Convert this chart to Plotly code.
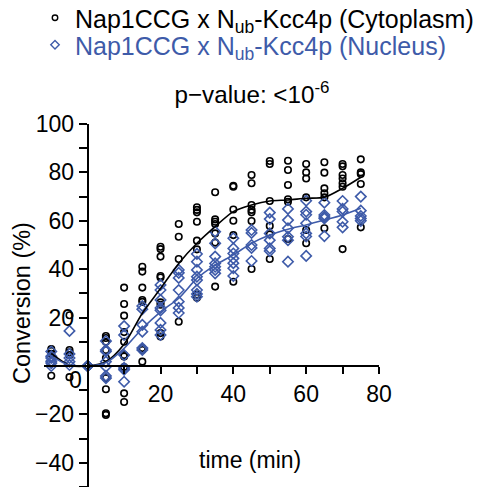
import plotly.graph_objects as go

# ---- data ----
times = [-10, -5, 0, 5, 10, 15, 20, 25, 30, 35, 40, 45, 50, 55, 60, 65, 70, 75]

cyto_vals = [
    [7, 6.2, 5, -4],
    [21, 6.6, 5.7, 4.5, -4.6],
    [0, 0, 0, 0, 0, 0],
    [12.4, 11.6, 10, 6.6, 3.3, -5, -9.6, -19.5, -20.2],
    [32.4, 25.6, 20.8, 14, 10, 4.5, 3.9, -0.4, -11.3, -14.9],
    [41, 39, 32.4, 27.3, 26.5, 7.4, 6.6, 1.8],
    [49.3, 48.3, 45.2, 37.2, 36.6, 26.3, 25.3, 13.6, 12.2],
    [58.7, 53.4, 44.2, 18.3],
    [65.6, 64.5, 63.5, 59.6, 51.8, 48.2, 29.5, 28.2],
    [71.8, 60.6, 59.6, 58.7, 54.8, 51, 32.8],
    [74.5, 74.1, 64.7, 60, 54.1, 34.8],
    [78.9, 75.5, 66.5, 64.5, 63.5, 59.9, 40.1],
    [84.7, 83.5, 68.2, 57.9, 54.4, 44.2],
    [84.8, 81, 74.8, 68.9, 67.9, 52.5],
    [83.5, 80, 77.5, 69.7, 56.2, 50.7],
    [84.2, 79.9, 73.4, 71.4, 69.7, 56.9],
    [83.5, 82.5, 78.9, 77.5, 75.5, 74.1, 48.3],
    [85.4, 80, 79.3, 75.2, 57.3],
]

nuc_vals = [
    [6, 4, 3.3, 2, 1.2, 0],
    [14.5, 5, 3.3, 1.8, 0.4],
    [0, 0, 0, 0, 0],
    [10.3, 6.6, 6, 1.8, -0.3, -4.1, -5],
    [16.5, 12.8, 4.5, -0.8, -1.5, -6.5],
    [24.8, 23.5, 17, 14.2, 7.4, 6.6],
    [33.5, 31.4, 27.3, 24, 23, 17.8, 14.9, 12.8],
    [39.7, 38.5, 36.4, 31.4, 26.6, 24, 21.9],
    [46.3, 43.1, 39.7, 36.9, 35.5, 31.4, 29.8, 28.6],
    [55.5, 50.7, 45.2, 42.4, 41, 39.7, 38.3],
    [52.8, 48.6, 46.5, 44.5, 42.5, 40.4, 37.2],
    [56.2, 55, 50, 48.8, 43.4],
    [63.4, 60.7, 54.8, 52, 48.6, 47.5],
    [64.9, 60.3, 56.9, 53.4, 52, 43.1],
    [68.3, 63.8, 62.5, 59, 54.8, 53.5, 45.5],
    [67.5, 62.4, 61.6, 61, 53.7],
    [68.2, 64.9, 63.8, 59.6, 57.3],
    [70, 64.2, 62, 61, 60],
]

cyto_fit = [5.2, 0.3, 0, 1.8, 9, 21.8, 32, 42.4, 50.7, 57.6, 63.8, 66.5, 68.2, 68.6, 69.3, 69.7, 73.4, 78]
nuc_fit = [4.1, 0.3, 0, 1.4, 7.3, 15.5, 22.4, 28, 36.2, 41.7, 45.9, 50.7, 54.1, 56.5, 58.3, 60.3, 62.4, 65.2]

x_ticks = [20, 40, 60, 80]
x_minor = [0, 10, 30, 50, 70]
y_ticks = [-40, -20, 20, 40, 60, 80, 100]
y_minor = [-50, -30, -10, 0, 10, 30, 50, 70, 90]

name_cyto = "Nap1CCG x N<sub>ub</sub>-Kcc4p (Cytoplasm)"
name_nuc = "Nap1CCG x N<sub>ub</sub>-Kcc4p (Nucleus)"

BLUE = "#3E5BA9"
FONT = "Liberation Sans, Arial, sans-serif"

W, H = 477, 487
ML, MR, MT, MB = 44, 98, 124, 0
PW, PH = W - ML - MR, H - MT - MB


def px2paper_x(px):
    return (px - ML) / PW


def px2paper_y(py):
    return (H - MB - py) / PH


def flatten(vals):
    xs, ys = [], []
    for t, vs in zip(times, vals):
        for v in vs:
            xs.append(t)
            ys.append(v)
    return xs, ys


cx, cy = flatten(cyto_vals)
nx, ny = flatten(nuc_vals)

fig = go.Figure()
fig.add_trace(go.Scatter(x=cx, y=cy, mode="markers", name=name_cyto, showlegend=False,
                         marker=dict(symbol="circle-open", size=6.5, color="black",
                                     line=dict(width=1.6, color="black"))))
fig.add_trace(go.Scatter(x=nx, y=ny, mode="markers", name=name_nuc, showlegend=False,
                         marker=dict(symbol="diamond-open", size=8, color=BLUE,
                                     line=dict(width=1.6, color=BLUE))))
fig.add_trace(go.Scatter(x=times, y=cyto_fit, mode="lines", showlegend=False,
                         line=dict(color="black", width=1.6, shape="spline", smoothing=0.8)))
fig.add_trace(go.Scatter(x=times, y=nuc_fit, mode="lines", showlegend=False,
                         line=dict(color=BLUE, width=1.6, shape="spline", smoothing=0.8)))
# legend entries (small symbols as in the reference)
fig.add_trace(go.Scatter(x=[None], y=[None], mode="markers", name=name_cyto, legend="legend",
                         marker=dict(symbol="circle-open", size=5.5, color="black",
                                     line=dict(width=1.4, color="black"))))
fig.add_trace(go.Scatter(x=[None], y=[None], mode="markers", name=name_nuc, legend="legend2",
                         marker=dict(symbol="diamond-open", size=6.5, color=BLUE,
                                     line=dict(width=1.4, color=BLUE))))

xr = [-12, 80]
yr = [-50, 100]

leg_common = dict(xanchor="left", yanchor="middle", bgcolor="rgba(0,0,0,0)",
                  borderwidth=0)

fig.update_layout(
    width=W, height=H,
    margin=dict(l=ML, r=MR, t=MT, b=MB, autoexpand=False),
    plot_bgcolor="white", paper_bgcolor="white",
    font=dict(family=FONT, size=23, color="black"),
    showlegend=True,
    legend=dict(x=px2paper_x(35), y=px2paper_y(18), font=dict(size=25, color="black"),
                **leg_common),
    legend2=dict(x=px2paper_x(35), y=px2paper_y(45), font=dict(size=25, color=BLUE),
                 **leg_common),
    title=dict(text="p\u2212value: <10<sup>-6</sup>", x=252 / W, xanchor="center",
               y=1 - 95 / H, yanchor="middle", xref="container", yref="container",
               font=dict(size=24.2)),
    xaxis=dict(range=xr, anchor="free", position=(0 - yr[0]) / (yr[1] - yr[0]),
               showgrid=False, zeroline=False, showline=True, linecolor="black", linewidth=2,
               ticks="outside", ticklen=7, tickwidth=2, tickcolor="black",
               tickmode="array", tickvals=x_ticks,
               tickfont=dict(size=23),
               minor=dict(tickmode="array", tickvals=x_minor, ticks="outside", ticklen=7,
                          tickwidth=2, tickcolor="black")),
    yaxis=dict(range=yr, anchor="free", position=(0 - xr[0]) / (xr[1] - xr[0]),
               showgrid=False, zeroline=False, showline=True, linecolor="black", linewidth=2,
               ticks="outside", ticklen=8, tickwidth=2, tickcolor="black",
               tickmode="array", tickvals=y_ticks,
               tickfont=dict(size=23),
               minor=dict(tickmode="array", tickvals=y_minor, ticks="outside",
                          ticklen=8, tickwidth=2, tickcolor="black")),
)

fig.add_annotation(text="time (min)", xref="paper", yref="paper",
                   x=px2paper_x(250), y=px2paper_y(460), xanchor="center", yanchor="middle",
                   showarrow=False, font=dict(size=23))
fig.add_annotation(text="Conversion (%)", xref="paper", yref="paper",
                   x=px2paper_x(22), y=px2paper_y(303), xanchor="center", yanchor="middle",
                   textangle=-90, showarrow=False, font=dict(size=23.5))
fig.add_annotation(text="0", xref="paper", yref="paper",
                   x=px2paper_x(75), y=px2paper_y(380), xanchor="center", yanchor="middle",
                   showarrow=False, font=dict(size=23))

fig.write_html("out.html", config={"displayModeBar": False},
               post_script="document.body.style.margin='0';document.body.style.overflow='hidden';")
